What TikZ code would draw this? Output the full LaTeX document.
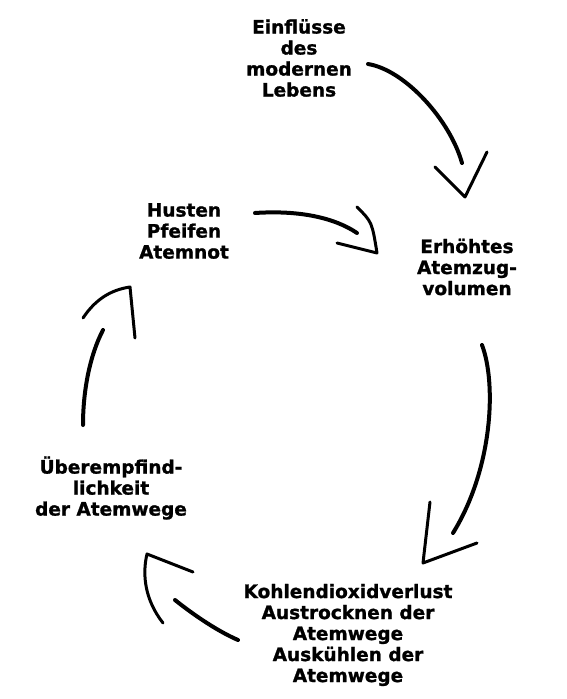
\documentclass[tikz,border=0pt]{standalone}
\usepackage{fontspec}
\setmainfont{DejaVu Sans}[BoldFeatures={FakeBold=1.2}]
\begin{document}
\begin{tikzpicture}[x=1pt, y=-1pt, line cap=round, line join=round,
  label/.style={align=center, inner sep=0pt,
    font=\bfseries\fontsize{18.5}{21}\selectfont},
  shaft/.style={line width=4pt},
  barb/.style={line width=3pt}]
  \useasboundingbox (0,0) rectangle (566,699);

  \node[label] (einfl)   at (299,58)  {Einflüsse\\des\\modernen\\Lebens};
  \node[label] (erhoeht) at (467,267) {Erhöhtes\\Atemzug-\\volumen};
  \node[label] (kohlen)  at (348,635) {Kohlendioxidverlust\\Austrocknen der\\Atemwege\\Auskühlen der\\Atemwege};
  \node[label] (ueber)   at (111,488) {Überempfind-\\lichkeit\\der Atemwege};
  \node[label] (husten)  at (184,231) {Husten\\Pfeifen\\Atemnot};

  % Pfeil 1
  \coordinate (S1) at (368,64);
  \coordinate (E1) at (462,163);
  \coordinate (T1) at (465,197);
  \draw[shaft] (S1) .. controls (405,70) and (450,120) .. (E1);
  \draw[barb] (435,167) -- (T1) -- (487,152);

  % Pfeil 2
  \coordinate (S2) at (255,213);
  \coordinate (E2) at (357,233);
  \coordinate (T2) at (377,253);
  \draw[shaft] (S2) .. controls (300,210) and (335,218) .. (E2);
  \draw[barb] (357,207) .. controls (372,222) .. (T2) -- (337,243);

  % Pfeil 3
  \coordinate (S3) at (482,345);
  \coordinate (E3) at (453,533);
  \coordinate (T3) at (423,563);
  \draw[shaft] (S3) .. controls (497,385) and (492,470) .. (E3);
  \draw[barb] (430,502) -- (T3) -- (477,543);

  % Pfeil 4
  \coordinate (S4) at (238,640);
  \coordinate (E4) at (175,600);
  \coordinate (T4) at (147,554);
  \draw[shaft] (S4) .. controls (215,630) and (190,612) .. (E4);
  \draw[barb] (163,623) .. controls (145,600) and (142,575) .. (T4) -- (193,572);

  % Pfeil 5
  \coordinate (S5) at (83,425);
  \coordinate (E5) at (103,330);
  \coordinate (T5) at (130,287);
  \draw[shaft] (S5) .. controls (83,390) and (90,355) .. (E5);
  \draw[barb] (83,318) .. controls (95,300) and (110,290) .. (T5) -- (135,338);
\end{tikzpicture}
\end{document}
